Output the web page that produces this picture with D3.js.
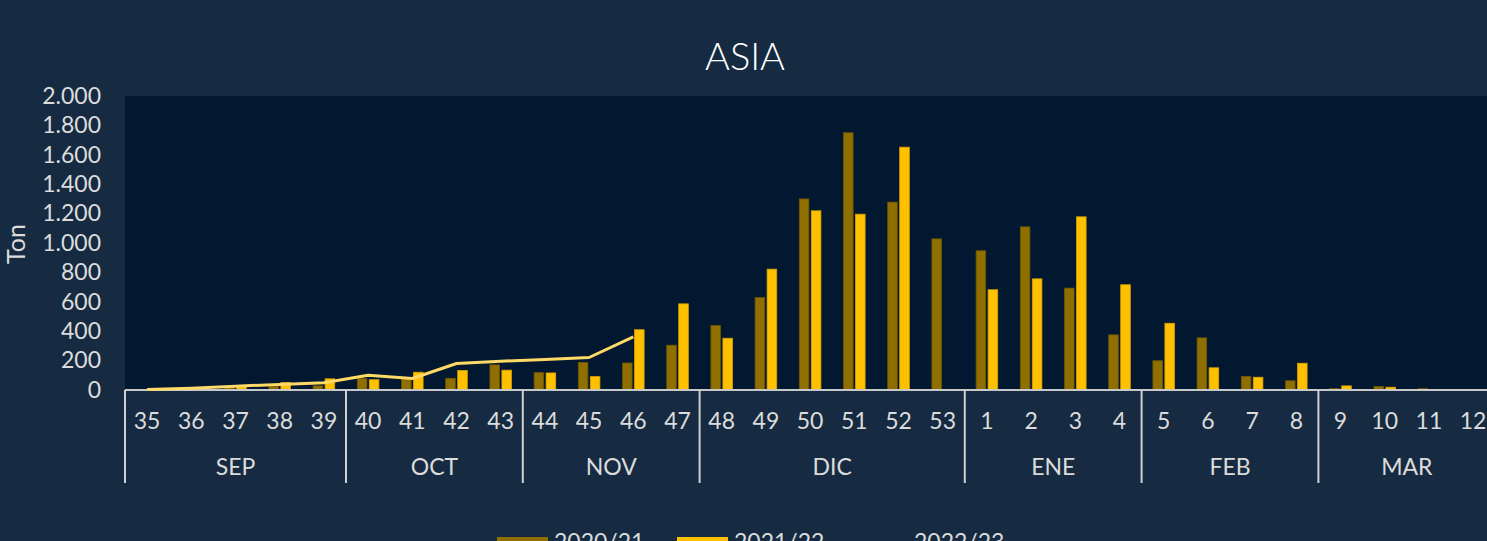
<!DOCTYPE html>
<html>
<head>
<meta charset="utf-8">
<script src="https://cdn.jsdelivr.net/npm/d3@7"></script>
<style>
  html, body { margin: 0; padding: 0; background: #162b42; overflow: hidden; }
  text { font-family: Lato, "Open Sans", sans-serif; }
</style>
</head>
<body>
<div id="chart"></div>
<script>
const weeks = ["35","36","37","38","39","40","41","42","43","44","45","46","47","48","49","50","51","52","53","1","2","3","4","5","6","7","8","9","10","11","12"];
const monthLabels = ["SEP","OCT","NOV","DIC","ENE","FEB","MAR"];
const monthWeekCounts = [5, 4, 4, 6, 4, 4, 4];
const seriesNames = ["2020/21", "2021/22", "2022/23"];
const values2020 = [0, 3, 15, 24, 28, 78, 76, 80, 171, 118, 188, 184, 305, 439, 629, 1300, 1750, 1278, 1028, 947, 1110, 693, 375, 199, 355, 92, 63, 10, 24, 10, 0];
const values2021 = [0, 3, 20, 51, 76, 70, 121, 133, 135, 116, 91, 410, 586, 352, 822, 1219, 1196, 1652, 0, 682, 756, 1178, 716, 454, 151, 87, 182, 28, 19, 0, 0];
const values2022 = [3, 12, 26, 38, 50, 100, 78, 180, 196, 207, 221, 362];
const yTicks = [0, 200, 400, 600, 800, 1000, 1200, 1400, 1600, 1800, 2000];

const width = 1487, height = 541;
const plot = { left: 125, top: 96, bottom: 390, step: 44.2 };
const colors = { "2020/21": "#8f6f00", "2021/22": "#ffc000", "2022/23": "#ffd966" };
const textColor = "#dcdcdc";

const svg = d3.select("#chart").append("svg").attr("width", width).attr("height", height);
svg.append("rect").attr("width", width).attr("height", height).attr("fill", "#162b42");

const x0 = d3.scaleBand().domain(weeks).range([plot.left, plot.left + plot.step * weeks.length]).padding(0);
const x1 = d3.scaleBand().domain(seriesNames.slice(0, 2)).range([0, x0.bandwidth()]).paddingInner(0.2).paddingOuter(0.94);
const y = d3.scaleLinear().domain([0, 2000]).range([plot.bottom, plot.top]);
const locale = d3.formatLocale({ decimal: ",", thousands: ".", grouping: [3] });
const fmt = locale.format(",");

svg.append("rect")
  .attr("x", plot.left).attr("y", plot.top)
  .attr("width", x0.range()[1] - plot.left).attr("height", plot.bottom - plot.top)
  .attr("fill", "#011830");

// title
svg.append("text").attr("x", 745).attr("y", 70).attr("text-anchor", "middle")
  .attr("fill", "#ffffff").attr("font-size", 38).attr("font-weight", 300).text("ASIA");

// y axis
const yAxis = svg.append("g").attr("transform", `translate(${plot.left},0)`)
  .call(d3.axisLeft(y).tickValues(yTicks).tickFormat(fmt).tickSize(0).tickPadding(24));
yAxis.select(".domain").remove();
yAxis.selectAll("text").attr("fill", textColor).attr("font-size", 23).style("font-family", "Lato, sans-serif");

svg.append("text").attr("transform", "translate(25,244) rotate(-90)").attr("text-anchor", "middle")
  .attr("fill", textColor).attr("font-size", 25).text("Ton");

// bars
const rows = weeks.map((w, i) => ({ week: w, vals: [values2020[i], values2021[i]] }));
const groups = svg.append("g").selectAll("g").data(rows).join("g")
  .attr("transform", d => `translate(${x0(d.week)},0)`);
groups.selectAll("rect").data(d => d.vals.map((v, k) => ({ key: seriesNames[k], v })).filter(e => e.v > 0))
  .join("rect")
  .attr("x", e => x1(e.key))
  .attr("y", e => y(e.v))
  .attr("width", x1.bandwidth())
  .attr("height", e => y(0) - y(e.v))
  .attr("fill", e => colors[e.key])
  .attr("stroke", e => e.key === "2020/21" ? "#6e5500" : "#d9a300")
  .attr("stroke-width", 0.8);

// x axis baseline
svg.append("line").attr("x1", plot.left).attr("x2", x0.range()[1])
  .attr("y1", plot.bottom).attr("y2", plot.bottom)
  .attr("stroke", "#c8c8c8").attr("stroke-width", 2);

// line series
const line = d3.line().x((d, i) => x0(weeks[i]) + x0.bandwidth() / 2).y(d => y(d));
svg.append("path").datum(values2022).attr("d", line)
  .attr("fill", "none").attr("stroke", colors["2022/23"]).attr("stroke-width", 3)
  .attr("stroke-linejoin", "round");

// week labels
svg.append("g").selectAll("text").data(weeks).join("text")
  .attr("x", d => x0(d) + x0.bandwidth() / 2).attr("y", 429)
  .attr("text-anchor", "middle").attr("fill", textColor).attr("font-size", 23).text(d => d);

// month separators and labels
let start = 0;
const bounds = [0];
monthWeekCounts.forEach(c => { start += c; bounds.push(start); });
svg.append("g").selectAll("line").data(bounds).join("line")
  .attr("x1", b => plot.left + b * x0.step()).attr("x2", b => plot.left + b * x0.step())
  .attr("y1", plot.bottom).attr("y2", 483)
  .attr("stroke", "#d0d0d0").attr("stroke-width", 2);
svg.append("g").selectAll("text").data(monthLabels).join("text")
  .attr("x", (m, i) => plot.left + (bounds[i] + bounds[i + 1]) / 2 * x0.step())
  .attr("y", 475).attr("text-anchor", "middle").attr("fill", textColor).attr("font-size", 23)
  .text(m => m);

// legend
const legend = svg.append("g");
const legendX = [497, 677, 857];
seriesNames.forEach((s, i) => {
  if (i < 2) {
    legend.append("rect").attr("x", legendX[i]).attr("y", 537).attr("width", 51).attr("height", 14)
      .attr("fill", colors[s]);
  } else {
    legend.append("line").attr("x1", legendX[i]).attr("x2", legendX[i] + 50)
      .attr("y1", 546).attr("y2", 546).attr("stroke", colors[s]).attr("stroke-width", 3);
  }
  legend.append("text").attr("x", legendX[i] + 57).attr("y", 550).attr("fill", textColor)
    .attr("font-size", 23).text(s);
});
</script>
</body>
</html>
